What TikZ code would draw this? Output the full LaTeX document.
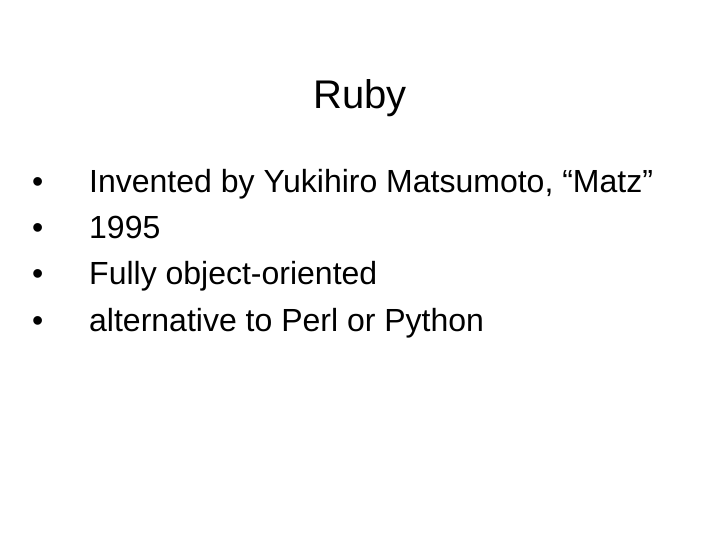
\documentclass[tikz,border=0pt]{standalone}
\usepackage{fontspec}
\setmainfont{Liberation Sans}
\begin{document}
\begin{tikzpicture}[x=1bp,y=-1bp,
  bul/.style={anchor=base west,inner sep=0pt,font=\fontsize{32bp}{36bp}\selectfont},
  ttl/.style={anchor=base,inner sep=0pt,font=\fontsize{40bp}{44bp}\selectfont}]
\useasboundingbox[fill=white] (0,0) rectangle (720,540);
\node[ttl] (title) at (360,109) {Ruby};
\node[bul] (b1) at (32,193) {•};
\node[bul] (t1) at (89,193) {Invented by Yukihiro Matsumoto, “Matz”};
\node[bul] (b2) at (32,239) {•};
\node[bul] (t2) at (89,239) {1995};
\node[bul] (b3) at (32,285) {•};
\node[bul] (t3) at (89,285) {Fully object-oriented};
\node[bul] (b4) at (32,331) {•};
\node[bul] (t4) at (89,331) {alternative to Perl or Python};
\end{tikzpicture}
\end{document}
